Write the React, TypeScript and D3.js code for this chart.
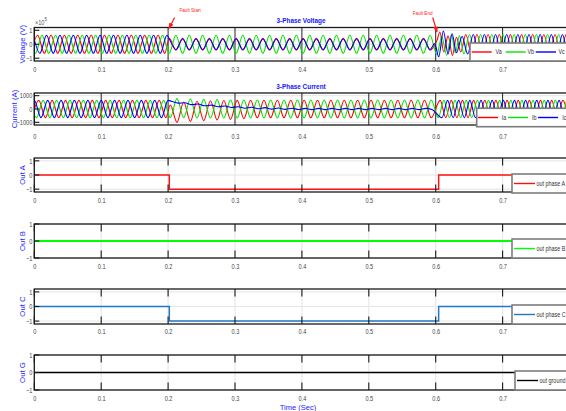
import React, { useRef, useEffect } from 'react';
import * as d3 from 'd3';

// [time, value] point
type Knot = [number, number];
// run of alternating half-cycle extrema: [time of first extremum (s), how many, first extremum value, half period (s)]
type Run = [number, number, number, number];

const HALF_50 = 0.01;
const HALF_60 = 1 / 120;

const xTicks = [0, 0.1, 0.2, 0.3, 0.4, 0.5, 0.6, 0.7];
const unitTicks = [-1, 0, 1];
const currentTicks = [-1000, 0, 1000];

// --- 3-phase voltage (x 1e5 V) ---
const vaRuns: Run[] = [[-0.005, 21, -0.65, HALF_50], [0.2017, 40, 0.42, HALF_50], [0.645, 20, 0.7, HALF_60]];
const vaKnots: Knot[] = [[0.6017, 0.25], [0.6063, 0.88], [0.612, -0.55], [0.6185, 0.6], [0.625, -0.8], [0.631, 0.5], [0.6375, -0.55]];
const vbRuns: Run[] = [[-0.00833, 61, 0.65, HALF_50], [0.6422, 20, -0.7, HALF_60]];
const vbKnots: Knot[] = [[0.6017, -0.75], [0.609, 0.55], [0.6165, -0.8], [0.6235, 0.7], [0.6295, -0.6], [0.6355, 0.6]];
const vcRuns: Run[] = [[-0.001667, 21, 0.65, HALF_50], [0.2017, 40, 0.38, HALF_50], [0.6478, 20, -0.7, HALF_60]];
const vcKnots: Knot[] = [[0.5985, 0.05], [0.6045, -0.9], [0.6115, 0.95], [0.6185, -0.7], [0.6245, 0.75], [0.631, -0.6], [0.6395, 0.55]];

// --- 3-phase current (A) ---
const iaRuns: Run[] = [[-0.00333, 21, -650, HALF_50], [0.3233, 28, 660, HALF_50], [0.6067, 24, 650, HALF_60]];
const iaKnots: Knot[] = [
  [0.2033, 300], [0.2133, -1000], [0.2233, 520], [0.2333, -930], [0.2433, 580], [0.2533, -870],
  [0.2633, 620], [0.2733, -820], [0.2833, 640], [0.2933, -780], [0.3033, 650], [0.3133, -720],
];
const ibRuns: Run[] = [[-0.00667, 21, 650, HALF_50], [0.2833, 32, -670, HALF_50], [0.6039, 24, -650, HALF_60]];
const ibKnots: Knot[] = [[0.2033, -650], [0.2133, 780], [0.2233, -650], [0.2333, 750], [0.2433, -680], [0.2533, 720], [0.2633, -680], [0.2733, 700]];
const icRuns: Run[] = [[-0.01, 22, -650, HALF_50], [0.6094, 24, -650, HALF_60]];
const icKnots: Knot[] = [
  [0.205, 580], [0.215, 440], [0.225, 470], [0.235, 330], [0.245, 370], [0.255, 240], [0.265, 290], [0.275, 170],
  [0.285, 220], [0.295, 110], [0.305, 170], [0.315, 60], [0.325, 130], [0.335, 20], [0.345, 100], [0.355, -10],
  [0.365, 80], [0.375, -30], [0.385, 60], [0.395, -40], [0.405, 50], [0.415, -50], [0.425, 50], [0.435, -50],
  [0.445, 50], [0.455, -50], [0.465, 50], [0.475, -50], [0.485, 50], [0.495, -50], [0.505, 50], [0.515, -50],
  [0.525, 50], [0.535, -50], [0.545, 50], [0.555, -50], [0.565, 50], [0.575, -50], [0.585, 50], [0.595, -50],
];

// --- relay outputs ---
const outTimes = [0, 0.2018, 0.6044, 1];
const outA = [0, -1, 0, 0];
const outB = [0, 0, 0, 0];
const outC = [0, -1, 0, 0];
const outG = [0, 0, 0, 0];

const faultStart = 0.2;
const faultEnd = 0.6;

const FONT = "'Liberation Sans', Arial, sans-serif";
const LABEL_BLUE = '#2323ff';
const SQUEEZE = 'scale(0.8,1)'; // the reference uses a narrow face

// turn runs + loose points into one sorted list of points
function buildSeries(runs: Run[], knots: Knot[]): Knot[] {
  const pts: Knot[] = [...knots];
  runs.forEach(([t0, n, v0, half]) => {
    for (let i = 0; i < n; i++) pts.push([t0 + i * half, i % 2 === 0 ? v0 : -v0]);
  });
  return pts.sort((a, b) => a[0] - b[0]);
}

export default function App() {
  const ref = useRef<SVGSVGElement>(null);

  useEffect(() => {
    document.body.style.margin = '0';
    const svg = d3.select(ref.current);
    svg.selectAll('*').remove();

    const left = 34.3;
    const x = d3.scaleLinear().domain([0, 1]).range([left, left + 669]);
    const right = x(1);

    // narrow text placed at (px, py)
    const narrowText = (parent: any, px: number, py: number, txt: string, size: number, fill: string, anchor = 'start') =>
      parent.append('text')
        .attr('transform', `translate(${px},${py}) ${SQUEEZE}`)
        .attr('text-anchor', anchor)
        .attr('font-family', FONT).attr('font-size', size).attr('fill', fill)
        .text(txt);

    const defs = svg.append('defs');
    defs.append('marker')
      .attr('id', 'arrow')
      .attr('viewBox', '0 0 10 10')
      .attr('refX', 9).attr('refY', 5)
      .attr('markerWidth', 5).attr('markerHeight', 5)
      .attr('orient', 'auto')
      .append('path').attr('d', 'M0,1 L10,5 L0,9 Z').attr('fill', '#ff1a1a');

    const panels = [
      {
        id: 'v', top: 27.5, bottom: 61, domain: [-1.2, 1.2], ticks: unitTicks, label: 'Voltage (V)', labelX: 22.5, xPad: 6.5, dark: true,
        series: [
          { data: buildSeries(vaRuns, vaKnots), color: '#ff0000', w: 1.1, curve: d3.curveMonotoneX },
          { data: buildSeries(vbRuns, vbKnots), color: '#00e600', w: 1.1, curve: d3.curveMonotoneX },
          { data: buildSeries(vcRuns, vcKnots), color: '#0000ff', w: 1.1, curve: d3.curveMonotoneX },
        ],
        legend: { x: 470, y: 43, h: 18, items: [['Va', '#ff0000', 1.7, 21.7, 25.5], ['Vb', '#00e600', 35.7, 55.7, 57.5], ['Vc', '#0000ff', 65.7, 86, 88.5]] },
      },
      {
        id: 'i', top: 93, bottom: 125, domain: [-1200, 1200], ticks: currentTicks, label: 'Current (A)', labelX: 14.5, xPad: 9, dark: true,
        series: [
          { data: buildSeries(iaRuns, iaKnots), color: '#ff0000', w: 1.1, curve: d3.curveMonotoneX },
          { data: buildSeries(ibRuns, ibKnots), color: '#00e600', w: 1.1, curve: d3.curveMonotoneX },
          { data: buildSeries(icRuns, icKnots), color: '#0000ff', w: 1.1, curve: d3.curveMonotoneX },
        ],
        legend: { x: 476.7, y: 108.3, h: 18.4, items: [['Ia', '#ff0000', 1.3, 21.3, 25], ['Ib', '#00e600', 31.3, 51.3, 55.3], ['Ic', '#0000ff', 61.3, 81.3, 85.5]] },
      },
      {
        id: 'a', top: 158, bottom: 192, domain: [-1.2, 1.2], ticks: unitTicks, label: 'Out A', labelX: 22.5, xPad: 6.2, dark: false,
        series: [{ data: outTimes.map((t, i) => [t, outA[i]] as Knot), color: '#ff1010', w: 1.5, curve: d3.curveStepAfter }],
        legend: { x: 512, y: 174, h: 19, items: [['out phase A', '#ff1010', 2, 23, 24.5]] },
      },
      {
        id: 'b', top: 224, bottom: 258, domain: [-1, 1], ticks: unitTicks, label: 'Out B', labelX: 22.5, xPad: 6.2, dark: false,
        series: [{ data: outTimes.map((t, i) => [t, outB[i]] as Knot), color: '#00ff00', w: 2, curve: d3.curveStepAfter }],
        legend: { x: 512, y: 239, h: 19, items: [['out phase B', '#00ff00', 2, 23, 24.5]] },
      },
      {
        id: 'c', top: 289, bottom: 324, domain: [-1.2, 1.2], ticks: unitTicks, label: 'Out C', labelX: 22.5, xPad: 5.5, dark: false,
        series: [{ data: outTimes.map((t, i) => [t, outC[i]] as Knot), color: '#1f78c8', w: 1.5, curve: d3.curveStepAfter }],
        legend: { x: 512, y: 305, h: 19, items: [['out phase C', '#1f78c8', 2, 23, 24.5]] },
      },
      {
        id: 'g', top: 355, bottom: 390, domain: [-1, 1], ticks: unitTicks, label: 'Out G', labelX: 22.5, xPad: 6.5, dark: false,
        series: [{ data: outTimes.map((t, i) => [t, outG[i]] as Knot), color: '#000000', w: 1.5, curve: d3.curveStepAfter }],
        legend: { x: 515, y: 371, h: 19, items: [['out ground', '#000000', 2, 23, 24.5]] },
      },
    ];

    panels.forEach(p => {
      const g = svg.append('g');
      const y = d3.scaleLinear().domain(p.domain).range([p.bottom, p.top]);

      defs.append('clipPath').attr('id', `clip-${p.id}`)
        .append('rect').attr('x', left).attr('y', p.top).attr('width', right - left).attr('height', p.bottom - p.top);

      g.append('rect').attr('x', left).attr('y', p.top).attr('width', right - left).attr('height', p.bottom - p.top).attr('fill', '#fff');

      // grid
      g.append('g').selectAll('line').data(p.ticks).join('line')
        .attr('x1', left).attr('x2', right).attr('y1', d => y(d)).attr('y2', d => y(d))
        .attr('stroke', '#e4e4e4').attr('stroke-width', 1);
      g.append('g').selectAll('line').data(xTicks).join('line')
        .attr('x1', d => x(d)).attr('x2', d => x(d)).attr('y1', p.top).attr('y2', p.bottom)
        .attr('stroke', p.dark ? '#222' : '#e8e8e8').attr('stroke-width', p.dark ? 1 : 1.2);

      // signals
      const lines = g.append('g').attr('clip-path', `url(#clip-${p.id})`);
      p.series.forEach(s => {
        const line = d3.line<Knot>().x(d => x(d[0])).y(d => y(d[1])).curve(s.curve);
        lines.append('path').datum(s.data)
          .attr('fill', 'none').attr('stroke', s.color).attr('stroke-width', s.w).attr('d', line);
      });

      // tick marks
      if (!p.dark) {
        g.append('g').selectAll('path').data(xTicks).join('path')
          .attr('d', d => `M${x(d)},${p.top}v7.5M${x(d)},${p.bottom}v-7.5`)
          .attr('stroke', '#1a1a1a').attr('stroke-width', 1.1);
      }
      g.append('g').selectAll('path').data(p.ticks).join('path')
        .attr('d', d => `M${left},${y(d)}h5`)
        .attr('stroke', '#1a1a1a').attr('stroke-width', 1.1);

      // frame
      g.append('rect').attr('x', left).attr('y', p.top).attr('width', right - left).attr('height', p.bottom - p.top)
        .attr('fill', 'none').attr('stroke', '#1a1a1a').attr('stroke-width', 1.3);

      // axes labels
      const xAxis = g.append('g').attr('transform', `translate(0,${p.bottom})`)
        .call(d3.axisBottom(x).tickValues(xTicks).tickSize(0).tickPadding(p.xPad).tickFormat(d3.format('~g')));
      xAxis.select('.domain').remove();
      xAxis.selectAll('text').attr('font-family', FONT).attr('font-size', 7).attr('fill', '#444').attr('transform', SQUEEZE);

      const yAxis = g.append('g').attr('transform', `translate(${left},0)`)
        .call(d3.axisLeft(y).tickValues(p.ticks).tickSize(0).tickPadding(2.5).tickFormat(d3.format('~g')));
      yAxis.select('.domain').remove();
      yAxis.selectAll('text').attr('font-family', FONT).attr('font-size', 7).attr('fill', '#444').attr('transform', SQUEEZE);

      g.append('text')
        .attr('transform', `translate(${p.labelX},${(p.top + p.bottom) / 2}) rotate(-90)`)
        .attr('text-anchor', 'middle').attr('dy', '0.35em')
        .attr('font-family', FONT).attr('font-size', 7.8).attr('fill', LABEL_BLUE)
        .text(p.label);

      // legend
      const lg = g.append('g').attr('transform', `translate(${p.legend.x},${p.legend.y})`);
      lg.append('rect').attr('width', 140).attr('height', p.legend.h)
        .attr('fill', '#fff').attr('stroke', '#7d7d7d').attr('stroke-width', 1.6);
      p.legend.items.forEach(([label, color, x0, x1, tx]) => {
        lg.append('line').attr('x1', x0 as number).attr('x2', x1 as number)
          .attr('y1', p.legend.h / 2).attr('y2', p.legend.h / 2)
          .attr('stroke', color as string).attr('stroke-width', 1.4);
        narrowText(lg, tx as number, p.legend.h / 2 + 2.4, label as string, 6.8, '#333');
      });
    });

    // titles
    narrowText(svg, 301, 22.5, '3-Phase Voltage', 8, '#1414ff', 'middle').attr('font-weight', 'bold');
    narrowText(svg, 301, 88.5, '3-Phase Current', 8, '#1414ff', 'middle').attr('font-weight', 'bold');

    // exponent
    const ex = narrowText(svg, 35, 24.5, '', 7, '#555');
    ex.append('tspan').text('×10');
    ex.append('tspan').attr('dy', -4).attr('font-size', 5.5).text('5');

    // fault annotations
    const ann = [
      { t: faultStart, text: 'Fault Start', tx: 22, ty: 11.5, x0: 6.5, y0: 17.5, x1: 0.8, y1: 28.5 },
      { t: faultEnd, text: 'Fault End', tx: -13, ty: 14.5, x0: -3, y0: 17.5, x1: 1.3, y1: 32 },
    ];
    ann.forEach(a => {
      narrowText(svg, x(a.t) + a.tx, a.ty, a.text, 5.8, '#ff1a1a', 'middle');
      svg.append('line')
        .attr('x1', x(a.t) + a.x0).attr('y1', a.y0).attr('x2', x(a.t) + a.x1).attr('y2', a.y1)
        .attr('stroke', '#ff1a1a').attr('stroke-width', 1.2).attr('marker-end', 'url(#arrow)');
    });

    // x label
    svg.append('text').attr('x', 298).attr('y', 410).attr('text-anchor', 'middle')
      .attr('font-family', FONT).attr('font-size', 7.5).attr('fill', LABEL_BLUE)
      .text('Time (Sec)');
  }, []);

  return <svg ref={ref} width={566} height={411} style={{ display: 'block', background: '#fff' }} />;
}
